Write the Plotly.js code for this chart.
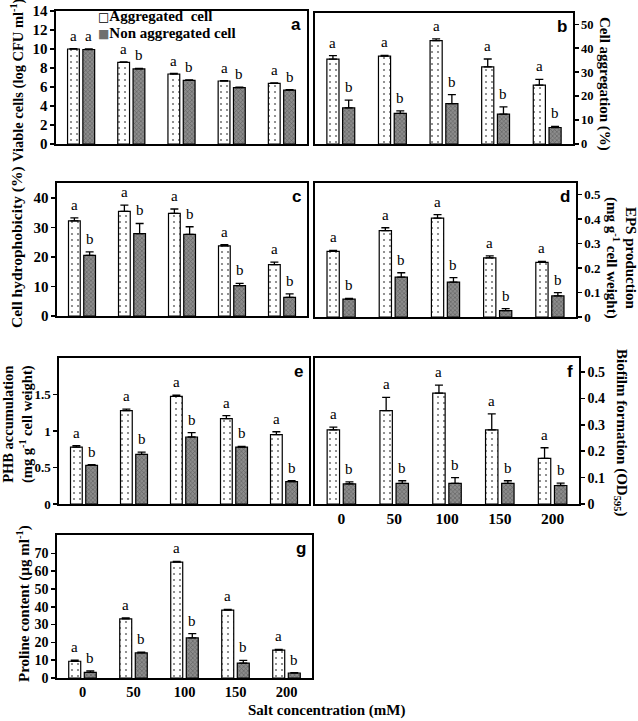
<!DOCTYPE html>
<html>
<head>
<meta charset="utf-8">
<script src="https://cdn.plot.ly/plotly-3.0.1.min.js"></script>
<style>html,body{margin:0;padding:0;background:#fff}#chart{width:638px;height:721px}</style>
</head>
<body>
<div id="chart"></div>
<script>
// ---------- data ----------
const categories = ['0', '50', '100', '150', '200'];
const seriesNames = ['Aggregated\u00a0\u00a0cell', 'Non aggregated cell'];

// a: viable cells (log CFU ml-1)
const viableAgg = [10.0, 8.6, 7.37, 6.63, 6.39];
const viableNon = [9.95, 7.9, 6.7, 5.93, 5.68];
const viableAggErr = [0.05, 0.05, 0.05, 0.05, 0.05];
const viableNonErr = [0.05, 0.05, 0.05, 0.05, 0.05];
const viableAggLetters = ['a', 'a', 'a', 'a', 'a'];
const viableNonLetters = ['a', 'b', 'b', 'b', 'b'];
const viableTicks = [0, 2, 4, 6, 8, 10, 12, 14];

// b: cell aggregation (%)
const aggregationAgg = [35.4, 36.7, 43.2, 32.2, 24.6];
const aggregationNon = [15.1, 12.8, 16.9, 12.5, 6.9];
const aggregationAggErr = [1.5, 0.3, 0.7, 3.3, 2.4];
const aggregationNonErr = [3.2, 1.0, 3.7, 3.0, 0.5];
const aggregationAggLetters = ['a', 'a', 'a', 'a', 'a'];
const aggregationNonLetters = ['b', 'b', 'b', 'b', 'b'];
const aggregationTicks = [0, 10, 20, 30, 40, 50];

// c: cell hydrophobicity (%)
const hydroAgg = [32.2, 35.4, 34.7, 23.7, 17.4];
const hydroNon = [20.5, 27.9, 27.6, 10.25, 6.3];
const hydroAggErr = [1.0, 2.1, 1.5, 0.4, 0.8];
const hydroNonErr = [1.2, 3.4, 2.6, 0.8, 1.2];
const hydroAggLetters = ['a', 'a', 'a', 'a', 'a'];
const hydroNonLetters = ['b', 'b', 'b', 'b', 'b'];
const hydroTicks = [0, 10, 20, 30, 40];

// d: EPS production (mg g-1 cell weight)
const epsAgg = [0.268, 0.353, 0.404, 0.242, 0.223];
const epsNon = [0.073, 0.163, 0.143, 0.026, 0.086];
const epsAggErr = [0.004, 0.012, 0.015, 0.008, 0.004];
const epsNonErr = [0.003, 0.018, 0.018, 0.008, 0.014];
const epsAggLetters = ['a', 'a', 'a', 'a', 'a'];
const epsNonLetters = ['b', 'b', 'b', 'b', 'b'];
const epsTicks = [0, 0.1, 0.2, 0.3, 0.4, 0.5];

// e: PHB accumulation (mg g-1 cell weight)
const phbAgg = [0.78, 1.28, 1.475, 1.17, 0.95];
const phbNon = [0.53, 0.68, 0.918, 0.78, 0.306];
const phbAggErr = [0.02, 0.02, 0.015, 0.04, 0.04];
const phbNonErr = [0.01, 0.03, 0.06, 0.01, 0.014];
const phbAggLetters = ['a', 'a', 'a', 'a', 'a'];
const phbNonLetters = ['b', 'b', 'b', 'b', 'b'];
const phbTicks = [0, 0.5, 1, 1.5];

// f: biofilm formation (OD595)
const biofilmAgg = [0.281, 0.354, 0.42, 0.281, 0.173];
const biofilmNon = [0.076, 0.078, 0.078, 0.078, 0.07];
const biofilmAggErr = [0.01, 0.05, 0.03, 0.06, 0.04];
const biofilmNonErr = [0.008, 0.01, 0.022, 0.01, 0.009];
const biofilmAggLetters = ['a', 'a', 'a', 'a', 'a'];
const biofilmNonLetters = ['b', 'b', 'b', 'b', 'b'];
const biofilmTicks = [0, 0.1, 0.2, 0.3, 0.4, 0.5];

// g: proline content (µg ml-1)
const prolineAgg = [9.4, 33.2, 65.1, 38.1, 15.6];
const prolineNon = [3.2, 14.1, 22.5, 8.4, 2.8];
const prolineAggErr = [0.6, 0.6, 0.4, 0.4, 0.5];
const prolineNonErr = [0.8, 0.4, 2.4, 1.5, 0.2];
const prolineAggLetters = ['a', 'a', 'a', 'a', 'a'];
const prolineNonLetters = ['b', 'b', 'b', 'b', 'b'];
const prolineTicks = [0, 10, 20, 30, 40, 50, 60, 70];

const xTitle = 'Salt concentration (mM)';

// ---------- layout config ----------
const W = 638, H = 721;
const fx = p => p / W;
const fy = p => 1 - p / H;
const serif = 'Liberation Serif, Times New Roman, serif';

const panels = [
  {id: 'a', agg: viableAgg, non: viableNon, aggErr: viableAggErr, nonErr: viableNonErr,
   aggL: viableAggLetters, nonL: viableNonLetters, ticks: viableTicks, ymax: 14,
   box: [56, 307, 11, 144], side: 'left', xlabels: false, tfs: 15, xfs: 15,
   title: 'Viable cells (log CFU ml<sup>-1</sup>)', tpos: [18, 80], tsz: 14.5},
  {id: 'b', agg: aggregationAgg, non: aggregationNon, aggErr: aggregationAggErr, nonErr: aggregationNonErr,
   aggL: aggregationAggLetters, nonL: aggregationNonLetters, ticks: aggregationTicks, ymax: 54.7,
   box: [315, 573, 13, 144], side: 'right', xlabels: false, tfs: 12.5, xfs: 15,
   title: 'Cell aggregation (%)', tpos: [604, 84], tsz: 15},
  {id: 'c', agg: hydroAgg, non: hydroNon, aggErr: hydroAggErr, nonErr: hydroNonErr,
   aggL: hydroAggLetters, nonL: hydroNonLetters, ticks: hydroTicks, ymax: 45,
   box: [57, 307, 183, 316], side: 'left', xlabels: false, tfs: 15, xfs: 15,
   title: 'Cell hydrophobicity (%)', tpos: [17, 247], tsz: 15.5},
  {id: 'd', agg: epsAgg, non: epsNon, aggErr: epsAggErr, nonErr: epsNonErr,
   aggL: epsAggLetters, nonL: epsNonLetters, ticks: epsTicks, ymax: 0.548,
   box: [315, 576, 183, 317], side: 'right', xlabels: false, tfs: 13, xfs: 15,
   title: 'EPS production<br>(mg g<sup>-1</sup> cell weight)', tpos: [621, 258], tsz: 15},
  {id: 'e', agg: phbAgg, non: phbNon, aggErr: phbAggErr, nonErr: phbNonErr,
   aggL: phbAggLetters, nonL: phbNonLetters, ticks: phbTicks, ymax: 2.0,
   box: [59, 309, 358, 504], side: 'left', xlabels: false, tfs: 13, xfs: 15,
   title: 'PHB accumulation<br>(mg g<sup>-1</sup> cell weight)', tpos: [18, 424], tsz: 14.5},
  {id: 'f', agg: biofilmAgg, non: biofilmNon, aggErr: biofilmAggErr, nonErr: biofilmNonErr,
   aggL: biofilmAggLetters, nonL: biofilmNonLetters, ticks: biofilmTicks, ymax: 0.553,
   box: [315, 579, 358, 504], side: 'right', xlabels: true, tfs: 14, xfs: 15.5,
   title: 'Biofilm formation (OD<sub>595</sub>)', tpos: [621, 432], tsz: 15},
  {id: 'g', agg: prolineAgg, non: prolineNon, aggErr: prolineAggErr, nonErr: prolineNonErr,
   aggL: prolineAggLetters, nonL: prolineNonLetters, ticks: prolineTicks, ymax: 80.3,
   box: [57, 312, 535, 678], side: 'left', xlabels: true, tfs: 14, xfs: 14.5,
   title: 'Proline content (µg ml<sup>-1</sup>)', tpos: [23, 604], tsz: 15}
];

const BAR_W = 0.235, AGG_OFF = -0.27, NON_OFF = 0.035;
const aggStyle = {color: '#ffffff', line: {color: '#000', width: 1.2},
  pattern: {shape: '.', fgcolor: '#777777', bgcolor: '#ffffff', size: 6, solidity: 0.1}};
const nonStyle = {color: '#808080', line: {color: '#000', width: 1.2},
  pattern: {shape: 'x', fgcolor: '#5e5e5e', bgcolor: '#8c8c8c', size: 3, solidity: 0.35}};

const traces = [];
const annotations = [];
const layout = {
  width: W, height: H, margin: {l: 0, r: 0, t: 0, b: 0},
  paper_bgcolor: '#fff', plot_bgcolor: 'rgba(0,0,0,0)',
  barmode: 'overlay', showlegend: false,
  font: {family: serif, color: '#000'},
  annotations: annotations
};

panels.forEach((p, i) => {
  const n = i === 0 ? '' : String(i + 1);
  const xa = 'x' + n, ya = 'y' + n;
  const [x0, x1, y0, y1] = p.box;
  layout['xaxis' + n] = {
    domain: [fx(x0), fx(x1)], anchor: ya, type: 'category',
    range: [-0.5, categories.length - 0.5],
    showline: true, mirror: true, linecolor: '#000', linewidth: 1.6,
    ticks: '', showticklabels: p.xlabels, showgrid: false, zeroline: false,
    tickfont: {family: serif, size: p.xfs, weight: 'bold', color: '#000'}, fixedrange: true
  };
  layout['yaxis' + n] = {
    domain: [fy(y1), fy(y0)], anchor: xa, side: p.side,
    range: [0, p.ymax], tickvals: p.ticks, ticktext: p.ticks.map(String),
    showline: true, mirror: true, linecolor: '#000', linewidth: 1.6,
    ticks: 'outside', ticklen: 4, tickwidth: 1.5, tickcolor: '#000',
    showgrid: false, zeroline: false,
    tickfont: {family: serif, size: p.tfs, weight: 'bold', color: '#000'}, fixedrange: true
  };
  const zeros = p.aggErr.map(() => 0);
  traces.push({
    type: 'bar', x: categories, y: p.agg, xaxis: xa, yaxis: ya,
    name: seriesNames[0], width: BAR_W, offset: AGG_OFF, marker: aggStyle,
    error_y: {type: 'data', symmetric: false, array: p.aggErr, arrayminus: zeros,
      color: '#000', thickness: 1.3, width: 4}
  });
  traces.push({
    type: 'bar', x: categories, y: p.non, xaxis: xa, yaxis: ya,
    name: seriesNames[1], width: BAR_W, offset: NON_OFF, marker: nonStyle,
    error_y: {type: 'data', symmetric: false, array: p.nonErr, arrayminus: zeros,
      color: '#000', thickness: 1.3, width: 4}
  });
  // significance letters
  categories.forEach((c, k) => {
    annotations.push({xref: xa, yref: ya, x: k + AGG_OFF + BAR_W / 2, y: p.agg[k] + p.aggErr[k],
      text: p.aggL[k], showarrow: false, yanchor: 'bottom', yshift: 3,
      font: {family: serif, size: 15, color: '#000'}});
    annotations.push({xref: xa, yref: ya, x: k + NON_OFF + BAR_W / 2, y: p.non[k] + p.nonErr[k],
      text: p.nonL[k], showarrow: false, yanchor: 'bottom', yshift: 3,
      font: {family: serif, size: 15, color: '#000'}});
  });
  // panel letter
  annotations.push({xref: 'paper', yref: 'paper', x: fx(x1 - 4), y: fy(y0 + 2),
    xanchor: 'right', yanchor: 'top', text: p.id, showarrow: false,
    font: {family: 'Liberation Sans, Arial, sans-serif', size: 17, weight: 'bold', color: '#000'}});
  // axis title
  annotations.push({xref: 'paper', yref: 'paper', x: fx(p.tpos[0]), y: fy(p.tpos[1]),
    xanchor: 'center', yanchor: 'middle', text: p.title, showarrow: false,
    textangle: p.side === 'left' ? -90 : 90,
    font: {family: serif, size: p.tsz, weight: 'bold', color: '#000'}});
});

// legend (inside panel a)
const legendSwatches = [
  '<span style="font-family:DejaVu Sans;font-size:12px;font-weight:normal;color:#000">\u25A1</span>',
  '<span style="font-family:DejaVu Sans;font-size:12px;font-weight:normal;color:#6f6f6f">\u25A0</span>'
];
const legendRows = [16, 33];
seriesNames.forEach((name, j) => {
  annotations.push({xref: 'paper', yref: 'paper', x: fx(97), y: fy(legendRows[j]),
    xanchor: 'left', yanchor: 'middle', showarrow: false, borderpad: 0,
    text: legendSwatches[j] + name,
    font: {family: serif, size: 15, weight: 'bold', color: '#000'}});
});

annotations.push({xref: 'paper', yref: 'paper', x: fx(326), y: fy(710),
  xanchor: 'center', yanchor: 'middle', text: xTitle, showarrow: false,
  font: {family: serif, size: 15, weight: 'bold', color: '#000'}});

Plotly.newPlot('chart', traces, layout, {staticPlot: true, displayModeBar: false});
</script>
</body>
</html>
